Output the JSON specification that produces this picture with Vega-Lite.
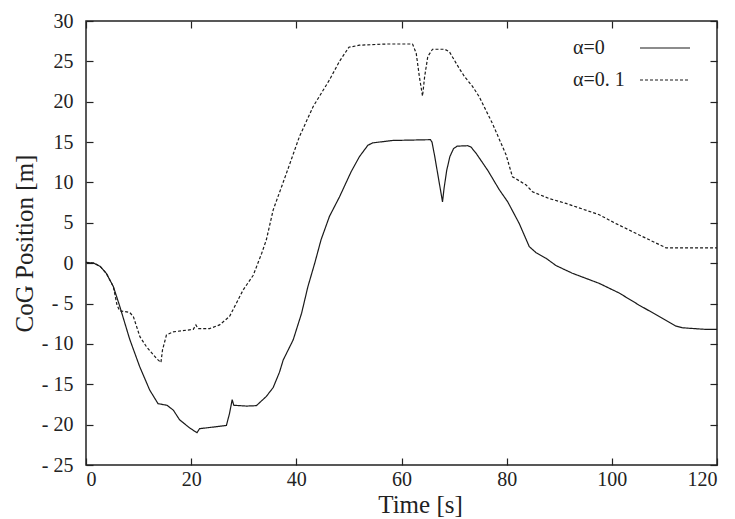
{
  "$schema": "https://vega.github.io/schema/vega-lite/v6.json",
  "width": 631,
  "height": 444,
  "autosize": {"type": "none"},
  "padding": {"left": 86, "top": 21, "right": 18, "bottom": 54},
  "background": "white",
  "config": {
    "font": "Liberation Serif",
    "view": {"stroke": "#222", "strokeWidth": 1.5},
    "axis": {
      "domain": false,
      "grid": false,
      "labelFont": "Liberation Serif",
      "labelFontSize": 20,
      "labelColor": "#222",
      "titleFont": "Liberation Serif",
      "titleFontSize": 25,
      "titleFontWeight": "normal",
      "titleColor": "#222",
      "tickColor": "#222",
      "tickSize": -7,
      "tickWidth": 1.2
    }
  },
  "data": {
    "values": [
      {"series": "α=0", "t": 0, "v": 0.1},
      {"series": "α=0", "t": 1.5, "v": 0},
      {"series": "α=0", "t": 2.7, "v": -0.4},
      {"series": "α=0", "t": 3.9, "v": -1.3},
      {"series": "α=0", "t": 5.2, "v": -2.9},
      {"series": "α=0", "t": 6.4, "v": -5.3},
      {"series": "α=0", "t": 8.3, "v": -9.4},
      {"series": "α=0", "t": 10.2, "v": -12.8},
      {"series": "α=0", "t": 12.1, "v": -15.7},
      {"series": "α=0", "t": 13.7, "v": -17.4},
      {"series": "α=0", "t": 15.4, "v": -17.6},
      {"series": "α=0", "t": 16.6, "v": -18.2},
      {"series": "α=0", "t": 17.8, "v": -19.4},
      {"series": "α=0", "t": 19.7, "v": -20.4},
      {"series": "α=0", "t": 21.1, "v": -21.0},
      {"series": "α=0", "t": 21.6, "v": -20.5},
      {"series": "α=0", "t": 24.2, "v": -20.3},
      {"series": "α=0", "t": 26.7, "v": -20.1},
      {"series": "α=0", "t": 27.3, "v": -18.6},
      {"series": "α=0", "t": 27.8, "v": -16.9},
      {"series": "α=0", "t": 28.1, "v": -17.6},
      {"series": "α=0", "t": 30.5, "v": -17.7},
      {"series": "α=0", "t": 32.4, "v": -17.65},
      {"series": "α=0", "t": 34.3, "v": -16.5},
      {"series": "α=0", "t": 35.6, "v": -15.4},
      {"series": "α=0", "t": 36.8, "v": -13.5},
      {"series": "α=0", "t": 37.5, "v": -12.0},
      {"series": "α=0", "t": 39.4, "v": -9.5},
      {"series": "α=0", "t": 41.0, "v": -6.2},
      {"series": "α=0", "t": 42.2, "v": -2.9},
      {"series": "α=0", "t": 43.5, "v": 0},
      {"series": "α=0", "t": 44.7, "v": 2.9},
      {"series": "α=0", "t": 46.3, "v": 5.8},
      {"series": "α=0", "t": 48.2, "v": 8.2},
      {"series": "α=0", "t": 50.4, "v": 11.3},
      {"series": "α=0", "t": 52.0, "v": 13.2},
      {"series": "α=0", "t": 53.6, "v": 14.6},
      {"series": "α=0", "t": 54.5, "v": 14.9},
      {"series": "α=0", "t": 58.3, "v": 15.2},
      {"series": "α=0", "t": 65.5, "v": 15.3},
      {"series": "α=0", "t": 65.8, "v": 15.0},
      {"series": "α=0", "t": 66.3, "v": 13.3},
      {"series": "α=0", "t": 67.3, "v": 9.5},
      {"series": "α=0", "t": 67.8, "v": 7.6},
      {"series": "α=0", "t": 68.1, "v": 9.3},
      {"series": "α=0", "t": 68.6, "v": 11.5},
      {"series": "α=0", "t": 69.2, "v": 13.2},
      {"series": "α=0", "t": 69.9, "v": 14.2},
      {"series": "α=0", "t": 70.6, "v": 14.5},
      {"series": "α=0", "t": 72.6, "v": 14.55},
      {"series": "α=0", "t": 73.2, "v": 14.4},
      {"series": "α=0", "t": 74.2, "v": 13.6},
      {"series": "α=0", "t": 76.4, "v": 11.5},
      {"series": "α=0", "t": 78.6, "v": 9.1},
      {"series": "α=0", "t": 80.2, "v": 7.6},
      {"series": "α=0", "t": 82.4, "v": 4.9},
      {"series": "α=0", "t": 84.3, "v": 2.05},
      {"series": "α=0", "t": 85.6, "v": 1.3},
      {"series": "α=0", "t": 87.5, "v": 0.6},
      {"series": "α=0", "t": 89.4, "v": -0.3},
      {"series": "α=0", "t": 92.5, "v": -1.25},
      {"series": "α=0", "t": 97.6, "v": -2.5},
      {"series": "α=0", "t": 101.4, "v": -3.7},
      {"series": "α=0", "t": 105.2, "v": -5.2},
      {"series": "α=0", "t": 109.0, "v": -6.6},
      {"series": "α=0", "t": 112.2, "v": -7.8},
      {"series": "α=0", "t": 113.4, "v": -8.0},
      {"series": "α=0", "t": 117.8, "v": -8.2},
      {"series": "α=0", "t": 120, "v": -8.2},
      {"series": "α=0. 1", "t": 0, "v": 0.1},
      {"series": "α=0. 1", "t": 1.5, "v": 0},
      {"series": "α=0. 1", "t": 2.7, "v": -0.4},
      {"series": "α=0. 1", "t": 3.9, "v": -1.3},
      {"series": "α=0. 1", "t": 5.2, "v": -2.9},
      {"series": "α=0. 1", "t": 5.9, "v": -5.2},
      {"series": "α=0. 1", "t": 6.4, "v": -5.9},
      {"series": "α=0. 1", "t": 8.3, "v": -6.1},
      {"series": "α=0. 1", "t": 9.0, "v": -6.6},
      {"series": "α=0. 1", "t": 10.25, "v": -9.1},
      {"series": "α=0. 1", "t": 11.5, "v": -10.35},
      {"series": "α=0. 1", "t": 13.4, "v": -11.8},
      {"series": "α=0. 1", "t": 14.25, "v": -12.3},
      {"series": "α=0. 1", "t": 14.55, "v": -10.75},
      {"series": "α=0. 1", "t": 15.3, "v": -8.9},
      {"series": "α=0. 1", "t": 16.6, "v": -8.5},
      {"series": "α=0. 1", "t": 20.4, "v": -8.2},
      {"series": "α=0. 1", "t": 20.9, "v": -7.65},
      {"series": "α=0. 1", "t": 21.3, "v": -8.1},
      {"series": "α=0. 1", "t": 23.5, "v": -8.1},
      {"series": "α=0. 1", "t": 25.4, "v": -7.65},
      {"series": "α=0. 1", "t": 27.3, "v": -6.6},
      {"series": "α=0. 1", "t": 29.9, "v": -3.3},
      {"series": "α=0. 1", "t": 31.8, "v": -1.5},
      {"series": "α=0. 1", "t": 33.4, "v": 1.2},
      {"series": "α=0. 1", "t": 34.3, "v": 2.9},
      {"series": "α=0. 1", "t": 35.6, "v": 6.6},
      {"series": "α=0. 1", "t": 38.1, "v": 11.1},
      {"series": "α=0. 1", "t": 40.6, "v": 15.7},
      {"series": "α=0. 1", "t": 43.2, "v": 19.4},
      {"series": "α=0. 1", "t": 46.3, "v": 22.7},
      {"series": "α=0. 1", "t": 48.2, "v": 25.0},
      {"series": "α=0. 1", "t": 50.0, "v": 26.75},
      {"series": "α=0. 1", "t": 52.0, "v": 27.0},
      {"series": "α=0. 1", "t": 57.1, "v": 27.15},
      {"series": "α=0. 1", "t": 62.1, "v": 27.15},
      {"series": "α=0. 1", "t": 62.8, "v": 26.0},
      {"series": "α=0. 1", "t": 63.4, "v": 23.1},
      {"series": "α=0. 1", "t": 64.0, "v": 20.7},
      {"series": "α=0. 1", "t": 64.4, "v": 23.1},
      {"series": "α=0. 1", "t": 65.0, "v": 25.6},
      {"series": "α=0. 1", "t": 65.9, "v": 26.5},
      {"series": "α=0. 1", "t": 68.2, "v": 26.5},
      {"series": "α=0. 1", "t": 69.1, "v": 26.2},
      {"series": "α=0. 1", "t": 71.0, "v": 24.1},
      {"series": "α=0. 1", "t": 72.0, "v": 23.1},
      {"series": "α=0. 1", "t": 73.5, "v": 21.9},
      {"series": "α=0. 1", "t": 74.8, "v": 20.6},
      {"series": "α=0. 1", "t": 77.3, "v": 17.3},
      {"series": "α=0. 1", "t": 79.9, "v": 13.4},
      {"series": "α=0. 1", "t": 81.1, "v": 10.7},
      {"series": "α=0. 1", "t": 83.7, "v": 9.7},
      {"series": "α=0. 1", "t": 84.9, "v": 8.85},
      {"series": "α=0. 1", "t": 88.1, "v": 8.0},
      {"series": "α=0. 1", "t": 91.3, "v": 7.4},
      {"series": "α=0. 1", "t": 97.6, "v": 6.0},
      {"series": "α=0. 1", "t": 100.8, "v": 4.9},
      {"series": "α=0. 1", "t": 105.2, "v": 3.5},
      {"series": "α=0. 1", "t": 110.3, "v": 1.9},
      {"series": "α=0. 1", "t": 120, "v": 1.9}
    ]
  },
  "layer": [
    {
      "mark": {"type": "line", "strokeWidth": 1.2, "color": "#1a1a1a"},
      "encoding": {
        "x": {
          "field": "t",
          "type": "quantitative",
          "scale": {"domain": [0, 120], "nice": false},
          "axis": {
            "orient": "bottom",
            "title": "Time [s]",
            "titleX": 334,
            "titleAlign": "center",
            "values": [0, 20, 40, 60, 80, 100, 120],
            "labelFont": "Liberation Serif",
            "labelPadding": 11,
            "titlePadding": 3
          }
        },
        "y": {
          "field": "v",
          "type": "quantitative",
          "scale": {"domain": [-25, 30], "nice": false},
          "axis": {
            "orient": "left",
            "title": "CoG Position [m]",
            "values": [-25, -20, -15, -10, -5, 0, 5, 10, 15, 20, 25, 30],
            "labelExpr": "datum.value < 0 ? '- ' + abs(datum.value) : '' + datum.value",
            "labelFont": "Liberation Serif",
            "labelPadding": 20,
            "titlePadding": 4
          }
        },
        "strokeDash": {
          "field": "series",
          "type": "nominal",
          "scale": {"domain": ["α=0", "α=0. 1"], "range": [[1, 0], [3, 2]]},
          "legend": {
            "title": null,
            "orient": "none",
            "legendX": 569,
            "legendY": 17,
            "symbolType": "M-5,0H5",
            "symbolSize": 100,
            "symbolStrokeWidth": 1.2,
            "symbolStrokeColor": "#1a1a1a",
            "symbolFillColor": "transparent",
            "rowPadding": 12,
            "labelOffset": -102,
            "labelFont": "Liberation Serif",
            "labelFontSize": 20,
            "labelColor": "#222",
            "labelLimit": 0,
            "padding": 0
          }
        }
      }
    },
    {
      "mark": {"type": "line", "opacity": 0},
      "encoding": {
        "x": {
          "field": "t",
          "type": "quantitative",
          "axis": {"orient": "top", "title": null, "labels": false, "values": [0, 20, 40, 60, 80, 100, 120]}
        },
        "y": {
          "field": "v",
          "type": "quantitative",
          "axis": {"orient": "right", "title": null, "labels": false, "values": [-25, -20, -15, -10, -5, 0, 5, 10, 15, 20, 25, 30]}
        },
        "detail": {"field": "series"}
      }
    }
  ],
  "resolve": {"axis": {"x": "independent", "y": "independent"}}
}
